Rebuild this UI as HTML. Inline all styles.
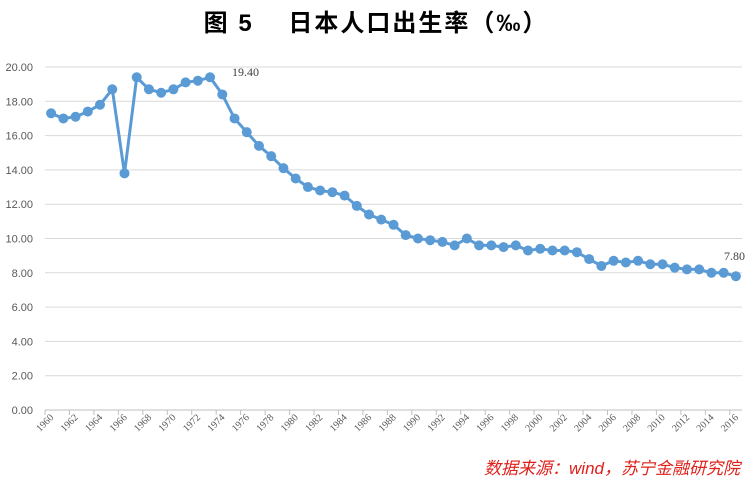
<!DOCTYPE html>
<html><head><meta charset="utf-8"><style>
body{margin:0;background:#fff;width:756px;height:479px;overflow:hidden}
</style></head><body>
<svg id="c" width="756" height="479" xmlns="http://www.w3.org/2000/svg" font-family="Liberation Serif, serif">
<text x="376" y="31" text-anchor="middle" font-family="Liberation Sans, 'Noto Sans CJK SC', sans-serif" font-size="24" font-weight="bold" letter-spacing="2" fill="#000">图 5　 日本人口出生率（‰）</text>
<text x="740" y="474" text-anchor="end" font-family="Liberation Sans, 'Noto Sans CJK SC', sans-serif" font-size="17" font-style="italic" fill="#e0201a">数据来源：wind，苏宁金融研究院</text>
<g id="g"></g>
</svg>
<script>
var d=[17.3,17.0,17.1,17.4,17.8,18.7,13.8,19.4,18.7,18.5,18.7,19.1,19.2,19.4,18.4,17.0,16.2,15.4,14.8,14.1,13.5,13.0,12.8,12.7,12.5,11.9,11.4,11.1,10.8,10.2,10.0,9.9,9.8,9.6,10.0,9.6,9.6,9.5,9.6,9.3,9.4,9.3,9.3,9.2,8.8,8.4,8.7,8.6,8.7,8.5,8.5,8.3,8.2,8.2,8.0,8.0,7.8];
var x0=45,x1=742,y0=410,ky=17.15,st=(x1-x0)/57;
function X(i){return x0+st*(i+0.5)}function Y(v){return y0-v*ky}
var s='';
for(var v=0;v<=20;v+=2){var y=Y(v);s+='<line x1="'+x0+'" x2="'+x1+'" y1="'+y+'" y2="'+y+'" stroke="'+(v?'#d9d9d9':'#bfbfbf')+'" stroke-width="1"/>';
s+='<text x="33" y="'+(y+4)+'" text-anchor="end" font-size="11" fill="#595959" font-family="Liberation Sans, sans-serif">'+v.toFixed(2)+'</text>';}
for(var i=0;i<=57;i+=2){var tx=x0+st*i;s+='<line x1="'+tx+'" x2="'+tx+'" y1="410" y2="415" stroke="#bfbfbf"/>';}
for(var i=0;i<57;i+=2){var tx=X(i)+3,ty=418;s+='<text transform="translate('+tx+','+ty+') rotate(-45)" text-anchor="end" font-size="10" fill="#595959">'+(1960+i)+'</text>';}
var p='';for(var i=0;i<57;i++)p+=(i?'L':'M')+X(i).toFixed(1)+','+Y(d[i]).toFixed(1);
s+='<path d="'+p+'" fill="none" stroke="#5b9bd5" stroke-width="3" stroke-linejoin="round"/>';
for(var i=0;i<57;i++)s+='<circle cx="'+X(i)+'" cy="'+Y(d[i])+'" r="5" fill="#5b9bd5"/>';
s+='<text x="232" y="76" font-size="12" fill="#404040">19.40</text>';
s+='<text x="724" y="260" font-size="12" fill="#404040">7.80</text>';
document.getElementById('g').innerHTML=s;
</script>
</body></html>
